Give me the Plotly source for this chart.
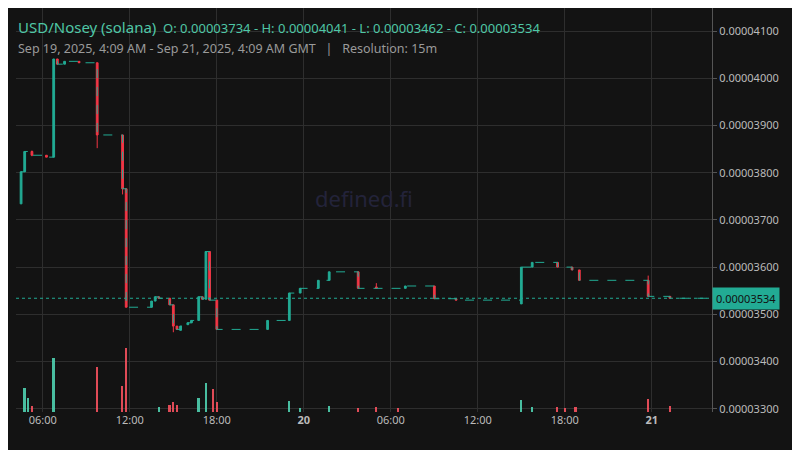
import pandas as pd
import plotly.graph_objects as go

t0 = pd.Timestamp("2025-09-19 00:00")

# candles: hours from Sep 19 00:00, prices in 1e-8 USD
c_hour = [4.5, 4.75, 5.25, 6.25, 6.75, 7.0, 7.5, 8.5, 9.75, 11.5, 11.75, 13.5, 13.75, 14.0,
          14.75, 15.0, 15.25, 15.5, 16.0, 16.25, 16.75, 17.0, 17.25, 17.5, 18.0, 21.5,
          23.0, 23.75, 25.0, 25.75, 27.75, 29.0, 31.0, 33.0, 34.5, 39.0, 39.75, 41.5,
          42.5, 43.0, 47.75, 49.25]
c_open = [3734, 3802, 3845, 3837, 3833, 4041, 4030, 4036, 4033, 3880, 3766, 3515, 3528, 3537,
          3534, 3520, 3475, 3466, 3478, 3482, 3487, 3537, 3532, 3633, 3530, 3468,
          3487, 3545, 3555, 3572, 3590, 3558, 3555, 3560, 3533, 3522, 3600, 3610,
          3600, 3594, 3572, 3538]
c_high = [3802, 3845, 3847, 3837, 4041, 4041, 4036, 4036, 4033, 3880, 3766, 3528, 3537, 3537,
          3534, 3520, 3475, 3475, 3482, 3487, 3537, 3537, 3633, 3633, 3530, 3487,
          3545, 3555, 3572, 3590, 3590, 3566, 3560, 3560, 3533, 3600, 3610, 3610,
          3600, 3594, 3582, 3538]
c_low = [3734, 3802, 3835, 3833, 3833, 4030, 4030, 4033, 3852, 3754, 3515, 3515, 3528, 3534,
         3520, 3462, 3468, 3466, 3478, 3482, 3487, 3532, 3532, 3530, 3468, 3468,
         3487, 3545, 3555, 3572, 3555, 3555, 3555, 3533, 3530, 3522, 3600, 3600,
         3594, 3572, 3538, 3534]
c_close = [3802, 3845, 3837, 3833, 4041, 4030, 4036, 4033, 3880, 3766, 3515, 3528, 3537, 3534,
           3520, 3475, 3468, 3475, 3482, 3487, 3537, 3532, 3633, 3530, 3468, 3487,
           3545, 3555, 3572, 3590, 3555, 3555, 3560, 3533, 3530, 3600, 3610, 3600,
           3594, 3572, 3538, 3534]

# volume bars
v_hour = [4.75, 5.0, 5.25, 6.75, 9.75, 11.5, 11.75, 14.0, 14.75, 15.0, 15.25, 16.75, 17.25,
          17.75, 18.0, 23.0, 23.75, 25.75, 27.75, 29.0, 30.5, 39.0, 39.75, 41.5, 42.0,
          42.75, 47.75, 49.25]
v_val = [23, 13, 6, 51, 42, 24, 60, 5, 7, 9, 7, 13, 27, 22, 9, 10, 4, 6, 4, 5, 4, 11, 5, 5, 4, 5, 12, 6]
v_up = [1, 1, 0, 1, 0, 0, 0, 1, 0, 0, 0, 1, 1, 0, 0, 1, 1, 1, 0, 0, 0, 1, 1, 0, 0, 0, 0, 0]

green, red = "#22ab94", "#f23645"
scale = 1e-8
cx = [t0 + pd.Timedelta(hours=h) for h in c_hour]
vx = [t0 + pd.Timedelta(hours=h) for h in v_hour]
last = c_close[-1] * scale
x_start = t0 + pd.Timedelta(hours=4, minutes=9)
x_end = t0 + pd.Timedelta(hours=52, minutes=9)

fig = go.Figure()
fig.add_trace(go.Scatter(
    x=cx + [x_end], y=[c * scale for c in c_close] + [last],
    mode="lines", line=dict(color=green, width=1, dash="dash", shape="hv"),
    hoverinfo="skip"))
fig.add_trace(go.Candlestick(
    x=cx, open=[v * scale for v in c_open], high=[v * scale for v in c_high],
    low=[v * scale for v in c_low], close=[v * scale for v in c_close],
    increasing=dict(line=dict(color=green, width=1), fillcolor=green),
    decreasing=dict(line=dict(color=red, width=1), fillcolor=red),
    whiskerwidth=0))
fig.add_trace(go.Bar(
    x=vx, y=v_val, yaxis="y2", width=15 * 60 * 1000 * 0.45,
    marker=dict(color=["#4fd1b1" if u else "#f7525f" for u in v_up], line_width=0),
    opacity=0.9))

fig.add_hline(y=last, line=dict(color=green, width=1, dash="dot"))

tick_h = [6, 12, 18, 24, 30, 36, 42, 48]
tick_t = ["06:00", "12:00", "18:00", "<b>20</b>", "06:00", "12:00", "18:00", "<b>21</b>"]
ytick = [3300, 3400, 3500, 3600, 3700, 3800, 3900, 4000, 4100]

fig.update_layout(
    width=800, height=450, showlegend=False,
    paper_bgcolor="#131313", plot_bgcolor="#131313",
    font=dict(family="Noto Sans", color="#bbbbbb", size=11),
    margin=dict(l=8, r=96, t=0, b=46),
    xaxis=dict(range=[x_start, x_end], rangeslider_visible=False,
               tickvals=[t0 + pd.Timedelta(hours=h) for h in tick_h], ticktext=tick_t,
               gridcolor="#2e2e2e", showline=False, zeroline=False, ticks=""),
    yaxis=dict(side="right", range=[3293 * scale, 4149 * scale],
               tickvals=[v * scale for v in ytick], ticktext=[f"{v * scale:.8f}" for v in ytick],
               gridcolor="#2e2e2e", showline=True, linecolor="#555", zeroline=False,
               ticks="outside", ticklen=4, tickcolor="#555"),
    yaxis2=dict(overlaying="y", range=[0, 380], visible=False),
    bargap=0,
)
fig.add_annotation(xref="paper", yref="paper", x=0.0, y=1.0, xanchor="left", yanchor="top",
                   yshift=-7, showarrow=False, align="left",
                   text="<span style='font-size:15px'>USD/Nosey (solana)</span>  O: 0.00003734 - H: 0.00004041 - L: 0.00003462 - C: 0.00003534",
                   font=dict(color="#4fc7a6", size=13))
fig.add_annotation(xref="paper", yref="paper", x=0.0, y=1.0, xanchor="left", yanchor="top",
                   yshift=-30, showarrow=False,
                   text="Sep 19, 2025, 4:09 AM - Sep 21, 2025, 4:09 AM GMT   |   Resolution: 15m",
                   font=dict(color="#9a9a9a", size=12.5))
fig.add_annotation(xref="paper", yref="paper", x=0.5, y=0.53, showarrow=False,
                   text="defined.fi", font=dict(color="#23233a", size=22))
fig.add_annotation(xref="paper", yref="y", x=1.0, y=last, xanchor="left", showarrow=False,
                   text="0.00003534", bgcolor=green, font=dict(color="#111", size=11),
                   borderpad=3)

fig.write_html("out.html")
